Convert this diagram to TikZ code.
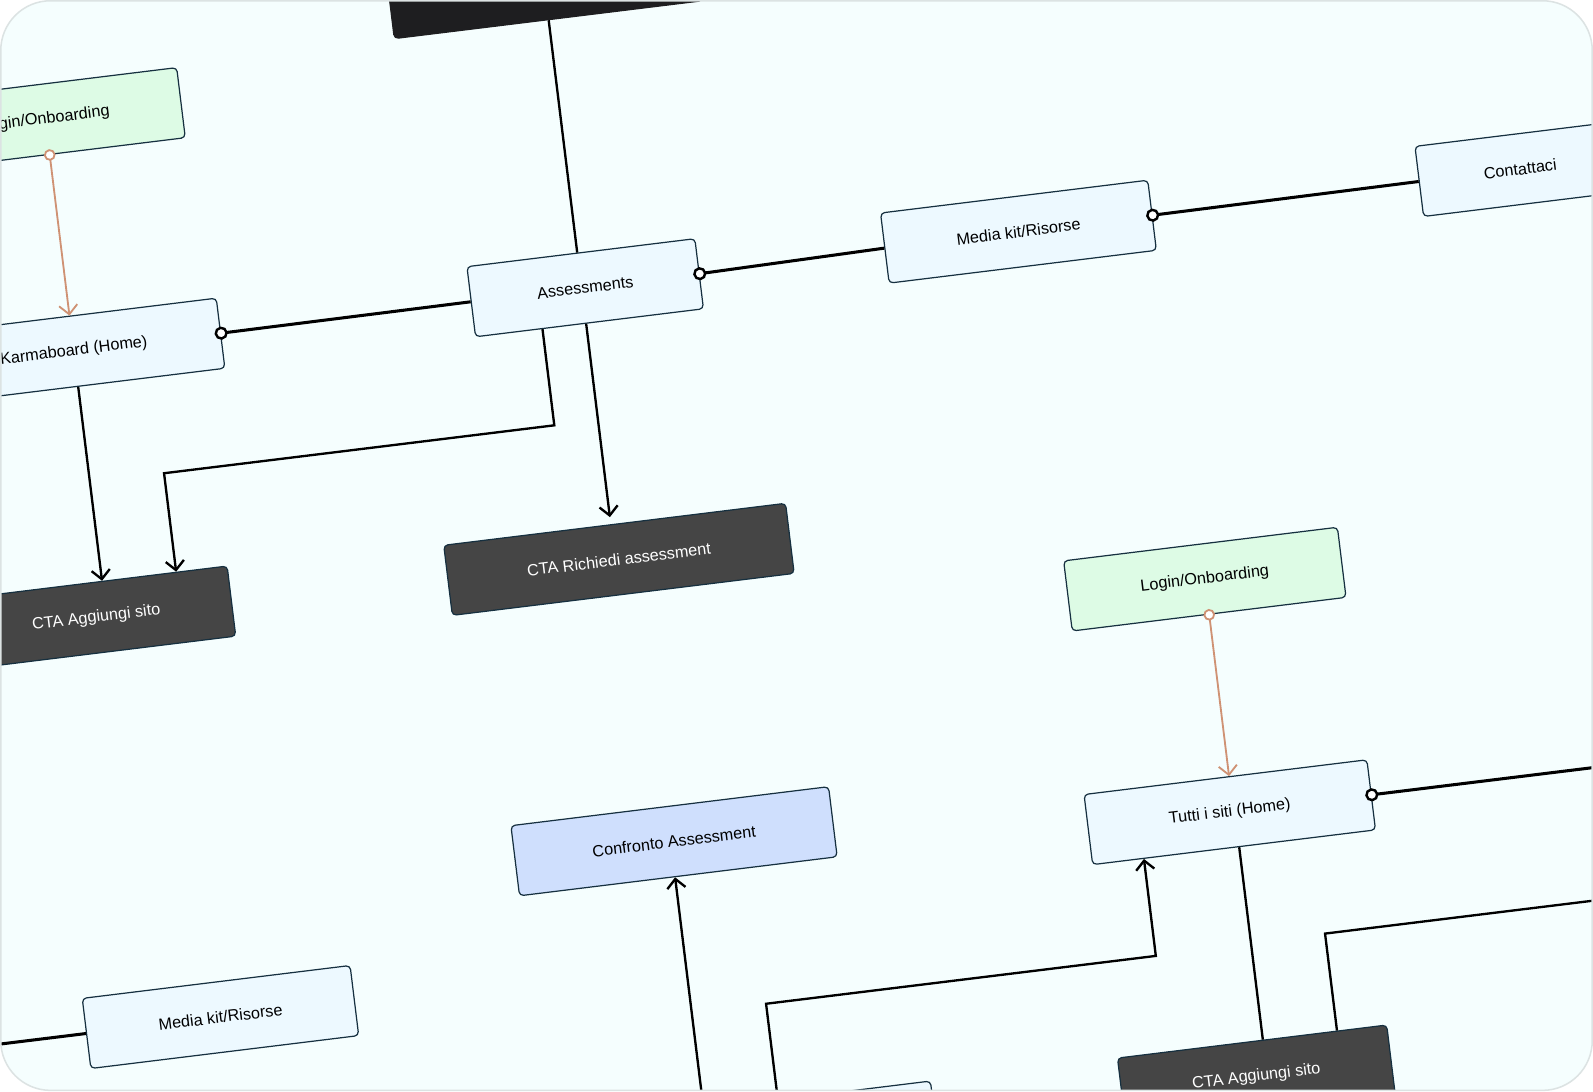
\documentclass[tikz,border=0pt]{standalone}
\usepackage{fontspec}
\setmainfont{Liberation Sans}
\usetikzlibrary{arrows.meta,calc}
\definecolor{bg}{HTML}{F5FEFE}
\definecolor{framec}{HTML}{DCE3E3}
\definecolor{liteblue}{HTML}{EDF9FF}
\definecolor{greenfill}{HTML}{DDFBE5}
\definecolor{darkfill}{HTML}{454545}
\definecolor{blackfill}{HTML}{1E1E20}
\definecolor{conffill}{HTML}{CFDFFD}
\definecolor{edgec}{HTML}{163040}
\definecolor{orangeline}{HTML}{CF9274}
\begin{document}
\begin{tikzpicture}[x=1pt,y=1pt,
 box/.style={draw=edgec, line width=1.2pt, rounded corners=4pt, minimum height=69.5pt, inner sep=0pt, font=\fontsize{16}{19}\selectfont, text=black, align=center},
 litebox/.style={box, fill=liteblue},
 greenbox/.style={box, fill=greenfill},
 darkbox/.style={box, fill=darkfill, text=white},
 confbox/.style={box, fill=conffill},
 blackbox/.style={box, fill=blackfill, draw=blackfill},
 conn/.style={line width=2.3pt, draw=black},
 thickconn/.style={line width=3pt, draw=black},
 arr/.style={conn, -{Straight Barb[length=9pt,width=18pt]}},
 orangearr/.style={line width=1.8pt, draw=orangeline, -{Straight Barb[length=9pt,width=18pt]}},
 ring/.style={line width=2.4pt, draw=black, fill=white},
 orangering/.style={line width=1.8pt, draw=orangeline, fill=white},
]
\useasboundingbox (0,0) rectangle (1568,-1074);
\fill[white] (0,0) rectangle (1568,-1074);
\begin{scope}
\clip[rounded corners=49pt] (0.75,-0.75) rectangle (1567.25,-1073.25);
\fill[bg] (0,0) rectangle (1568,-1074);
\begin{scope}[rotate=7, transform shape]
 % nodes
 \node[blackbox, minimum width=306pt, minimum height=70pt] (top) at (533.6,-50) {};
 \node[greenbox, minimum width=269pt] (login1) at (30,-122) {Login/Onboarding};
 \node[litebox, minimum width=291pt] (karma) at (30,-352) {Karmaboard (Home)};
 \node[litebox, minimum width=226pt] (assess) at (537.2,-351.3) {Assessments};
 \node[litebox, minimum width=265pt] (media1) at (967.2,-348.5) {Media kit/Risorse};
 \node[litebox, minimum width=200pt] (contact) at (1464.8,-347.5) {Contattaci};
 \node[darkbox, minimum width=268pt] (cta1) at (20,-615) {CTA Aggiungi sito};
 \node[darkbox, minimum width=339pt] (rich) at (537.6,-620.7) {CTA Richiedi assessment};
 \node[greenbox, minimum width=271.5pt] (login2) at (1107.6,-710.3) {Login/Onboarding};
 \node[litebox, minimum width=280.5pt] (tutti) at (1104,-941) {Tutti i siti (Home)};
 \node[confbox, minimum width=315pt] (conf) at (557.6,-902.7) {Confronto Assessment};
 \node[litebox, minimum width=265.6pt] (media2) at (93.4,-1020) {Media kit/Risorse};
 \node[darkbox, minimum width=267pt] (cta2) at (1098.3,-1202.5) {CTA Aggiungi sito};
 \node[litebox, minimum width=267pt] (bottom) at (645.8,-1202.5) {};
 % coordinates
 \coordinate (gA) at ($(assess.south)+(-46.7,0)$);
 \coordinate (gC1) at (490.5,-482);
 \coordinate (gC2) at (103.5,-482);
 \coordinate (gB) at ($(cta1.north)+(83.5,0)$);
 \coordinate (hA) at ($(assess.south)+(-3.4,0)$);
 \coordinate (jEnd) at (1600,-941);
 \coordinate (lStart) at (1750,-1071);
 \coordinate (lCorner) at (1182.5,-1071);
 \coordinate (lEnd) at ($(cta2.north)+(84.2,0)$);
 \coordinate (mA) at ($(bottom.north)+(-17.8,0)$);
 \coordinate (mB) at (628,-1072.5);
 \coordinate (mC) at (1014.5,-1072.5);
 \coordinate (mD) at ($(tutti.south)+(-89.5,0)$);
 \coordinate (nA) at ($(bottom.north)+(-91.5,0)$);
 \coordinate (oEnd) at (-300,-1020);
 % connectors
 \draw[conn] (top.south) -- ($(assess.north)+(-3.6,0)$);
 \draw[orangearr] (login1.south) -- (karma.north);
 \draw[thickconn] (karma.east) -- (assess.west);
 \draw[thickconn] (assess.east) -- (media1.west);
 \draw[thickconn] (media1.east) -- (contact.west);
 \draw[arr] (karma.south) -- ($(cta1.north)+(10,0)$);
 \draw[arr] (gA) -- (gC1) -- (gC2) -- (gB);
 \draw[arr, shorten >=7pt] (hA) -- ($(rich.north)+(-3.8,0)$);
 \draw[orangearr] (login2.south) -- ($(tutti.north)+(3.6,0)$);
 \draw[thickconn] (tutti.east) -- (jEnd);
 \draw[conn] ($(tutti.south)+(5,0)$) -- ($(cta2.north)+(10.7,0)$);
 \draw[conn] (lStart) -- (lCorner) -- (lEnd);
 \draw[arr] (mA) -- (mB) -- (mC) -- (mD);
 \draw[arr] (nA) -- ($(conf.south)+(-3.3,0)$);
 \draw[thickconn] (media2.west) -- (oEnd);
 % rings
 \draw[orangering] (login1.south) circle[radius=4.8];
 \draw[orangering] (login2.south) circle[radius=4.8];
 \draw[ring] (karma.east) circle[radius=5.3];
 \draw[ring] (assess.east) circle[radius=5.3];
 \draw[ring] (media1.east) circle[radius=5.3];
 \draw[ring] (tutti.east) circle[radius=5.3];
\end{scope}
\end{scope}
\draw[framec, line width=1.5pt, rounded corners=49pt] (0.75,-0.75) rectangle (1567.25,-1073.25);
\end{tikzpicture}
\end{document}
